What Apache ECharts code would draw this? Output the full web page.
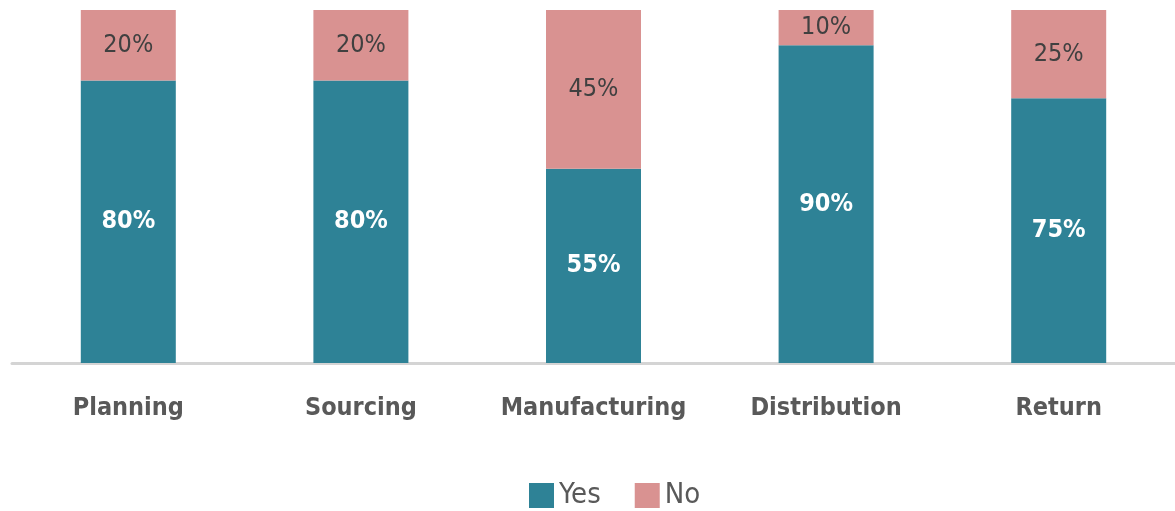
<!DOCTYPE html>
<html>
<head>
<meta charset="utf-8">
<script src="https://cdn.jsdelivr.net/npm/echarts@6/dist/echarts.min.js"></script>
<style>
  html, body { margin: 0; padding: 0; background: #fff; }
  #chart { width: 1175px; height: 511px; }
</style>
</head>
<body>
<div id="chart"></div>
<script>
// Share of respondents per supply-chain stage
const categories = ['Planning', 'Sourcing', 'Manufacturing', 'Distribution', 'Return'];
const yesValues = [80, 80, 55, 90, 75];
const noValues = [20, 20, 45, 10, 25];

const FONT = '"DejaVu Sans Condensed", "Liberation Sans", sans-serif';

const chart = echarts.init(document.getElementById('chart'));

chart.setOption({
  animation: false,
  grid: { left: 12, right: -10, top: 10, bottom: 148, containLabel: false },
  legend: {
    data: ['Yes', 'No'],
    left: 524,
    top: 476,
    itemWidth: 25,
    itemHeight: 25,
    itemGap: 34,
    icon: 'rect',
    textStyle: { color: '#595959', fontSize: 29, fontFamily: FONT }
  },
  xAxis: {
    type: 'category',
    data: categories,
    axisLine: { lineStyle: { color: '#d4d4d4', width: 3 } },
    axisTick: { show: false },
    axisLabel: {
      interval: 0,
      color: '#595959',
      fontSize: 25,
      fontWeight: 'bold',
      fontFamily: FONT,
      margin: 33
    }
  },
  yAxis: {
    type: 'value',
    min: 0,
    max: 100,
    show: false,
    splitLine: { show: false }
  },
  series: [
    {
      name: 'Yes',
      type: 'bar',
      stack: 'total',
      barWidth: 95,
      data: yesValues,
      itemStyle: { color: '#2e8296' },
      label: {
        show: true,
        position: 'inside',
        formatter: '{c}%',
        color: '#ffffff',
        fontSize: 25,
        fontWeight: 'bold',
        fontFamily: FONT
      }
    },
    {
      name: 'No',
      type: 'bar',
      stack: 'total',
      barWidth: 95,
      data: noValues,
      itemStyle: { color: '#d99291' },
      label: {
        show: true,
        position: 'inside',
        formatter: '{c}%',
        color: '#404040',
        fontSize: 25,
        fontFamily: FONT
      }
    }
  ]
});
</script>
</body>
</html>
